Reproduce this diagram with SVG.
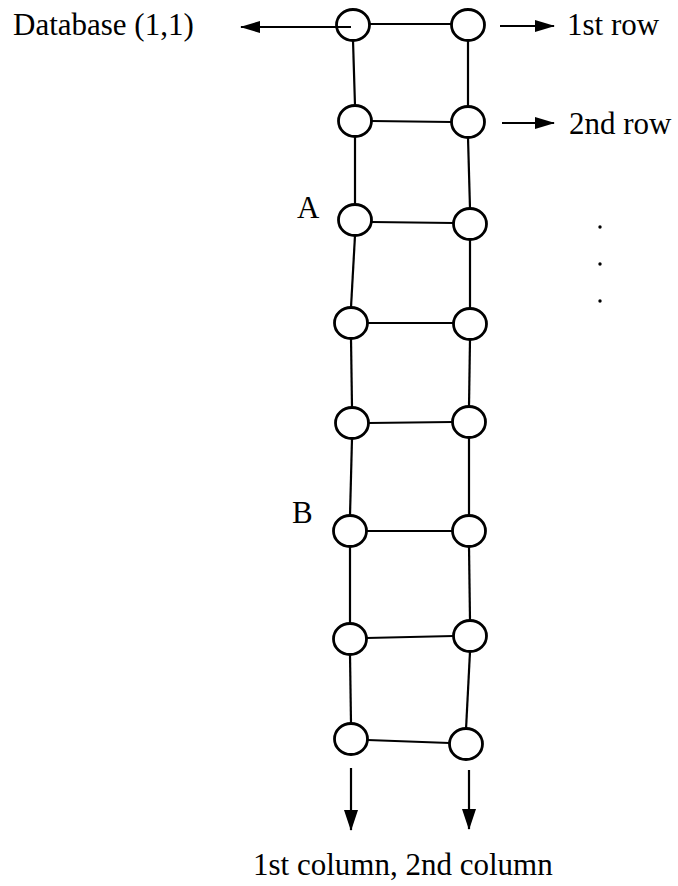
<svg xmlns="http://www.w3.org/2000/svg" width="678" height="886" viewBox="0 0 678 886">
<style>
.n{fill:none;stroke:#000;stroke-width:2.8}
.c{stroke:#000;stroke-width:2.2;fill:none}
.t{font-family:"Liberation Serif","Times New Roman",serif;font-size:31px;fill:#000}
</style>
<defs>
<marker id="ah" markerWidth="20" markerHeight="14" refX="19" refY="7" orient="auto" markerUnits="userSpaceOnUse">
<path d="M0,1 L20,7 L0,13 Z" fill="#000"/>
</marker>
<marker id="ahd" markerWidth="21" markerHeight="16" refX="20" refY="8" orient="auto" markerUnits="userSpaceOnUse">
<path d="M0,1 L21,8 L0,15 Z" fill="#000"/>
</marker>
</defs>
<rect width="678" height="886" fill="#fff"/>
<g id="connectors">
<line class="c" x1="353" y1="40.5" x2="355" y2="105.5"/>
<line class="c" x1="355" y1="136.5" x2="355" y2="204.5"/>
<line class="c" x1="355" y1="235.5" x2="351" y2="307.5"/>
<line class="c" x1="351" y1="338.5" x2="352" y2="407.5"/>
<line class="c" x1="352" y1="438.5" x2="350" y2="515.5"/>
<line class="c" x1="350" y1="546.5" x2="350" y2="623.5"/>
<line class="c" x1="350" y1="654.5" x2="351" y2="723.5"/>
<line class="c" x1="468" y1="40.5" x2="468" y2="106.5"/>
<line class="c" x1="468" y1="137.5" x2="470" y2="208.5"/>
<line class="c" x1="470" y1="239.5" x2="470" y2="308.5"/>
<line class="c" x1="470" y1="339.5" x2="469" y2="406.5"/>
<line class="c" x1="469" y1="437.5" x2="469" y2="515.5"/>
<line class="c" x1="469" y1="546.5" x2="470" y2="620.5"/>
<line class="c" x1="470" y1="651.5" x2="466" y2="729.5"/>
<line class="c" x1="369.5" y1="24" x2="451.5" y2="24"/>
<line class="c" x1="371.5" y1="121" x2="451.5" y2="122"/>
<line class="c" x1="371.5" y1="222" x2="453.5" y2="223"/>
<line class="c" x1="367.5" y1="323" x2="453.5" y2="323"/>
<line class="c" x1="368.5" y1="423" x2="452.5" y2="422"/>
<line class="c" x1="366.5" y1="531" x2="452.5" y2="531"/>
<line class="c" x1="366.5" y1="638" x2="453.5" y2="636"/>
<line class="c" x1="367.5" y1="740" x2="449.5" y2="743"/>
<line class="c" x1="351" y1="27" x2="241" y2="27" marker-end="url(#ah)"/>
<line class="c" x1="500" y1="26" x2="554" y2="26" marker-end="url(#ah)"/>
<line class="c" x1="502" y1="123" x2="554" y2="123" marker-end="url(#ah)"/>
<line class="c" x1="351" y1="768" x2="351" y2="830" marker-end="url(#ahd)"/>
<line class="c" x1="469" y1="770" x2="469" y2="829" marker-end="url(#ahd)"/>
</g>
<g id="n1L"><ellipse class="n" cx="353" cy="25" rx="16.5" ry="15.5"/></g>
<g id="n1R"><ellipse class="n" cx="468" cy="25" rx="16.5" ry="15.5"/></g>
<g id="n2L"><ellipse class="n" cx="355" cy="121" rx="16.5" ry="15.5"/></g>
<g id="n2R"><ellipse class="n" cx="468" cy="122" rx="16.5" ry="15.5"/></g>
<g id="n3L"><ellipse class="n" cx="355" cy="220" rx="16.5" ry="15.5"/></g>
<g id="n3R"><ellipse class="n" cx="470" cy="224" rx="16.5" ry="15.5"/></g>
<g id="n4L"><ellipse class="n" cx="351" cy="323" rx="16.5" ry="15.5"/></g>
<g id="n4R"><ellipse class="n" cx="470" cy="324" rx="16.5" ry="15.5"/></g>
<g id="n5L"><ellipse class="n" cx="352" cy="423" rx="16.5" ry="15.5"/></g>
<g id="n5R"><ellipse class="n" cx="469" cy="422" rx="16.5" ry="15.5"/></g>
<g id="n6L"><ellipse class="n" cx="350" cy="531" rx="16.5" ry="15.5"/></g>
<g id="n6R"><ellipse class="n" cx="469" cy="531" rx="16.5" ry="15.5"/></g>
<g id="n7L"><ellipse class="n" cx="350" cy="639" rx="16.5" ry="15.5"/></g>
<g id="n7R"><ellipse class="n" cx="470" cy="636" rx="16.5" ry="15.5"/></g>
<g id="n8L"><ellipse class="n" cx="351" cy="739" rx="16.5" ry="15.5"/></g>
<g id="n8R"><ellipse class="n" cx="466" cy="744" rx="16.5" ry="15.5"/></g>
<g id="labels">
<text class="t" x="13" y="35">Database (1,1)</text>
<text class="t" x="567" y="35">1st row</text>
<text class="t" x="569" y="134">2nd row</text>
<text class="t" x="297" y="218">A</text>
<text class="t" x="292" y="523">B</text>
<text class="t" x="253" y="875">1st column, 2nd column</text>
</g>
<g id="dots" fill="#000">
<circle cx="600" cy="227" r="1.7"/>
<circle cx="600" cy="264" r="1.7"/>
<circle cx="600" cy="301" r="1.7"/>
</g>
</svg>
